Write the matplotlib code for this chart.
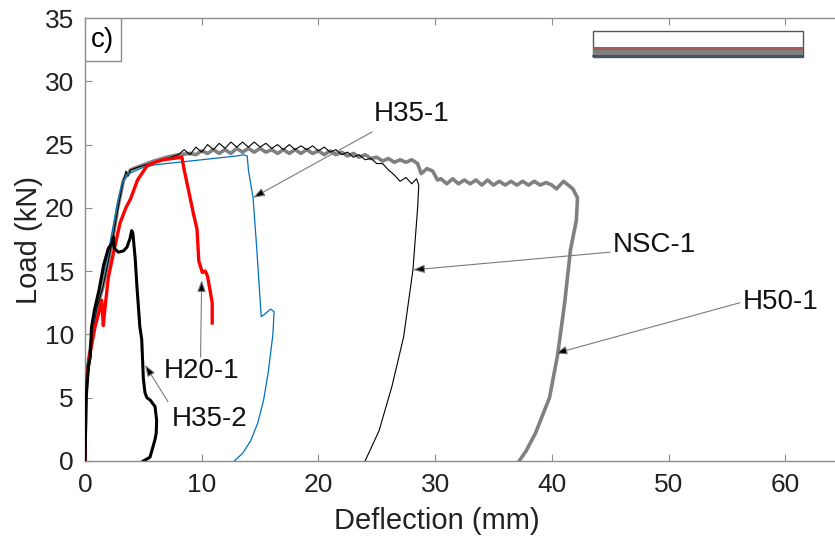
import matplotlib
matplotlib.use('Agg')
import matplotlib.pyplot as plt
from matplotlib.patches import Rectangle

plt.rcParams['font.family'] = ['Liberation Sans', 'DejaVu Sans']

# ---- curves (deflection mm, load kN) ----
h50_x = [0, 0.05, 0.15, 0.6, 1.0, 1.55, 2.0, 2.4, 2.8, 3.3, 3.9, 5.0, 5.9, 7.0, 8.0, 9.0,
         9.5, 10.0, 10.5, 11.0, 11.5, 12.0, 12.5, 13.0, 13.5, 14.0, 14.5, 15.0, 15.5, 16.0,
         16.5, 17.0, 17.5, 18.0, 18.5, 19.0, 19.5, 20.0, 20.5, 21.0, 21.5, 22.0, 22.5, 23.0,
         23.5, 24.0, 24.5, 25.0, 25.5, 26.0, 26.5, 27.0, 27.5, 28.0, 28.5, 28.8, 29.3, 29.8,
         30.2, 30.5, 31.0, 31.5, 32.0, 32.5, 33.0, 33.5, 34.0, 34.5, 35.0, 35.5, 36.0, 36.5,
         37.0, 37.5, 38.0, 38.5, 39.0, 39.5, 40.0, 40.4, 41.0, 41.8, 42.2, 42.1, 41.6, 41.1,
         40.5, 39.8, 38.6, 37.8, 37.2]
h50_y = [0, 5.0, 7.0, 9.8, 12.0, 13.8, 15.8, 17.7, 20.0, 22.2, 23.0, 23.4, 23.7, 24.0, 24.2, 24.3,
         24.2, 24.5, 24.3, 24.6, 24.3, 24.6, 24.3, 24.7, 24.4, 24.7, 24.4, 24.7, 24.4, 24.6,
         24.3, 24.6, 24.3, 24.6, 24.3, 24.6, 24.3, 24.5, 24.2, 24.5, 24.2, 24.4, 24.1, 24.3,
         24.0, 24.2, 23.9, 24.0, 23.7, 23.9, 23.6, 23.8, 23.6, 23.8, 23.5, 22.7, 23.1, 22.9,
         22.2, 22.3, 21.9, 22.3, 21.9, 22.2, 21.9, 22.2, 21.8, 22.2, 21.8, 22.1, 21.8, 22.1,
         21.8, 22.1, 21.8, 22.1, 21.8, 22.0, 21.8, 21.5, 22.1, 21.5, 20.8, 19.0, 16.7, 12.5,
         8.4, 5.0, 2.2, 0.8, 0]

nsc_x = [0, 0.05, 0.15, 0.5, 1.0, 1.55, 2.0, 2.4, 2.9, 3.3, 3.5, 3.7, 3.9, 4.5, 5.9, 7.0, 8.0,
         8.5, 9.0, 9.5, 10.0, 10.5, 11.0, 11.5, 12.0, 12.5, 13.0, 13.5, 14.0, 14.5, 15.0,
         15.5, 16.0, 16.5, 17.0, 17.5, 18.0, 18.5, 19.0, 19.5, 20.0, 20.5, 21.0, 21.5, 22.0,
         22.5, 23.0, 23.5, 24.0, 24.5, 25.0, 25.5, 26.0, 26.5, 27.0, 27.5, 28.0, 28.4, 28.6,
         28.5, 28.1, 27.3, 26.3, 25.2, 24.0]
nsc_y = [0, 5.0, 7.2, 9.5, 12.0, 13.8, 15.8, 17.7, 20.3, 22.2, 22.9, 22.5, 23.0, 23.2, 23.6, 23.9, 24.2,
         24.6, 24.2, 24.8, 24.4, 25.0, 24.6, 25.1, 24.7, 25.2, 24.8, 25.2, 24.8, 25.2, 24.8,
         25.1, 24.7, 25.0, 24.6, 25.0, 24.6, 24.9, 24.6, 24.9, 24.5, 24.8, 24.4, 24.6, 24.2,
         24.4, 24.0, 24.2, 23.8, 23.9, 23.5, 23.5, 23.0, 22.6, 22.1, 22.4, 21.9, 22.3, 21.8,
         20.0, 15.1, 9.8, 5.9, 2.4, 0]

h351_x = [0, 0.05, 0.2, 0.6, 1.0, 1.5, 2.0, 2.4, 2.8, 3.2, 3.6, 4.0, 5.0, 6.0, 8.0, 10.0, 12.0,
          13.0, 13.6, 13.9, 14.0, 14.4, 14.7, 15.1, 15.4, 15.9, 16.2, 16.1, 15.7, 15.3, 14.8,
          14.2, 13.5, 12.8]
h351_y = [0, 5.5, 7.5, 10.0, 12.5, 14.5, 16.5, 18.5, 20.5, 22.0, 22.6, 22.8, 23.2, 23.4, 23.6, 23.8, 24.0,
          24.1, 24.2, 24.1, 23.0, 20.8, 17.0, 11.4, 11.6, 12.0, 11.8, 10.0, 7.0, 4.8, 3.0,
          1.6, 0.6, 0]

h20_x = [0, 0.05, 0.14, 0.43, 0.86, 1.2, 1.43, 1.57, 1.7, 2.0, 2.43, 3.0, 3.5, 3.9, 4.5, 5.3,
         6.0, 6.7, 7.5, 8.3, 8.5, 9.05, 9.3, 9.6, 9.75, 10.05, 10.3, 10.5, 10.9, 10.9]
h20_y = [0, 4.0, 6.3, 8.5, 10.6, 11.8, 12.7, 10.7, 12.0, 14.5, 16.4, 18.8, 20.0, 20.7, 22.2, 23.3,
         23.6, 23.8, 23.9, 24.0, 23.0, 20.6, 19.5, 18.3, 15.8, 14.9, 15.0, 14.6, 12.5, 10.9]

h352_x = [0, 0.1, 0.3, 0.45, 0.55, 0.8, 1.2, 1.6, 2.0, 2.3, 2.43, 2.5, 2.86, 3.3, 3.6, 3.86,
          4.0, 4.1, 4.3, 4.45, 4.7, 4.86, 5.0, 5.14, 5.3, 5.6, 6.0, 6.14, 6.1, 6.0, 5.57, 5.0]
h352_y = [0, 5.0, 7.5, 8.2, 10.5, 11.9, 13.5, 15.5, 16.8, 17.2, 17.7, 16.8, 16.5, 16.6, 16.9, 17.6,
          18.2, 18.0, 16.0, 13.8, 10.6, 9.6, 6.5, 5.4, 5.0, 4.8, 4.3, 3.2, 2.2, 1.7, 0.3, 0]

# labels: text, text centre, arrow start, arrow tip
labels = ['H35-1', 'NSC-1', 'H50-1', 'H20-1', 'H35-2']
label_xy = [(28.0, 27.4), (48.8, 17.1), (59.6, 12.6), (10.0, 7.1), (10.7, 3.3)]
arrow_from = [(24.6, 26.0), (45.0, 16.5), (56.1, 12.5), (9.9, 8.2), (7.1, 4.7)]
arrow_to = [(14.4, 20.8), (28.1, 15.1), (40.3, 8.5), (10.0, 14.3), (5.14, 7.6)]

x_ticks = [0, 10, 20, 30, 40, 50, 60]
y_ticks = [0, 5, 10, 15, 20, 25, 30, 35]

fig = plt.figure(figsize=(8.35, 5.45), dpi=100)
ax = fig.add_axes([85 / 835, 84 / 545, 758.6 / 835, 443 / 545])

ax.plot(h50_x, h50_y, color='#808080', lw=2.6, zorder=2)
ax.plot(nsc_x, nsc_y, color='black', lw=0.8, zorder=3)
ax.plot(h351_x, h351_y, color='#0072BD', lw=0.9, zorder=3)
ax.plot(h20_x, h20_y, color='#ff0000', lw=2.4, zorder=4)
ax.plot(h352_x, h352_y, color='black', lw=2.2, zorder=4)

for name, txy, a0, a1 in zip(labels, label_xy, arrow_from, arrow_to):
    ax.annotate('', xy=a1, xytext=a0,
                arrowprops=dict(arrowstyle='-|>,head_length=0.5,head_width=0.18',
                                ec='#7a7a7a', fc='black', lw=0.8,
                                mutation_scale=14, shrinkA=0, shrinkB=0))
    ax.text(txy[0], txy[1], name, fontsize=20, ha='center', va='center', color='#111111')

# panel tag
ax.add_patch(Rectangle((0, 31.6), 3.05, 3.4, fc='white', ec='#8c8c8c', lw=1, zorder=5))
ax.text(1.5, 33.3, 'c)', fontsize=20, ha='center', va='center', zorder=6)

# beam section sketch, top right
ax.add_patch(Rectangle((43.5, 31.94), 18.0, 2.06, fc='white', ec='#555555', lw=1, zorder=5))
ax.add_patch(Rectangle((43.5, 32.45), 18.0, 0.22, fc='#a85858', ec='none', zorder=6))
ax.add_patch(Rectangle((43.5, 31.94), 18.0, 0.51, fc='#7f7f7f', ec='none', zorder=6))
ax.plot([43.5, 61.5], [31.97, 31.97], color='#3c4a58', lw=1.2, zorder=7)

ax.set_xlim(0, 65)
ax.set_ylim(0, 35)
ax.set_xticks(x_ticks)
ax.set_yticks(y_ticks)
ax.tick_params(direction='in', top=True, right=True, length=5, width=0.8,
               color='#8c8c8c', labelsize=19, labelcolor='#222222')
ax.tick_params(axis='x', pad=9)
ax.tick_params(axis='y', pad=8)
for s in ax.spines.values():
    s.set_color('#8c8c8c')
    s.set_linewidth(1)

ax.set_xlabel('Deflection (mm)', fontsize=21, color='#222222')
ax.set_ylabel('Load (kN)', fontsize=21, color='#222222')
ax.xaxis.set_label_coords(0.464, -0.103)
ax.yaxis.set_label_coords(-0.056, 0.5)

fig.savefig('out.png', dpi=100)
